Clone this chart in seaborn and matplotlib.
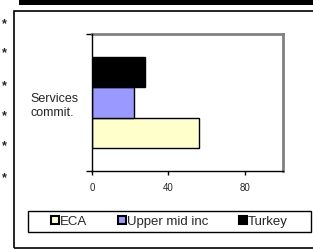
import pandas as pd
import matplotlib
matplotlib.use("Agg")
import matplotlib.pyplot as plt
import seaborn as sns
from matplotlib.patches import Rectangle

category = ["Services\ncommit."]
groups = ["ECA", "Upper mid inc", "Turkey"]
values = [56, 22, 28]
colors = ["#FFFFCC", "#9999FF", "#000000"]
x_ticks = [0, 40, 80]

df = pd.DataFrame({"cat": category * len(groups), "group": groups, "value": values})

sns.set_style("white")
plt.rcParams["font.family"] = ["Liberation Sans", "DejaVu Sans"]

fig = plt.figure(figsize=(3.13, 2.51), dpi=100)
ax = fig.add_axes([92 / 313, 1 - 172 / 251, 191 / 313, 137 / 251])

sns.barplot(data=df, x="value", y="cat", hue="group", hue_order=groups,
            palette=colors, saturation=1, orient="h", width=0.67,
            edgecolor="black", linewidth=1, ax=ax, legend=True)
ax.invert_yaxis()
ax.set_ylim(-0.5, 0.5)
ax.set_xlim(0, 100)
ax.set_xlabel("")
ax.set_ylabel("")

# x axis
ax.set_xticks(x_ticks)
ax.set_xticklabels([str(t) for t in x_ticks], fontsize=7)
ax.tick_params(axis="x", direction="out", length=3, width=1, color="black", pad=5, bottom=True)

# y axis: ticks at category borders, label in middle
ax.set_yticks([-0.5, 0.5])
ax.set_yticklabels(["", ""])
ax.tick_params(axis="y", direction="out", length=4, width=1, color="black", left=True)
ax.set_yticks([0], minor=True)
ax.set_yticklabels(category, minor=True, fontsize=9, ha="left")
ax.tick_params(axis="y", which="minor", length=0, pad=44.5)

for s in ["left", "bottom"]:
    ax.spines[s].set_color("black")
    ax.spines[s].set_linewidth(1)
for s in ["top", "right"]:
    ax.spines[s].set_color("#808080")
    ax.spines[s].set_linewidth(2)
ax.spines["left"].set_zorder(5)
ax.spines["bottom"].set_zorder(5)

# legend
handles, labels = ax.get_legend_handles_labels()
ax.get_legend().remove()
fig.patches.append(Rectangle((28 / 313, 1 - 233 / 251), 283 / 313, 21 / 251,
                             transform=fig.transFigure, fill=False,
                             edgecolor="black", linewidth=1))
leg = fig.legend(handles, labels, ncol=3, loc="center",
                 bbox_to_anchor=(169.5 / 313, 1 - 222.5 / 251),
                 fontsize=9.5, frameon=False,
                 handlelength=0.6, handleheight=0.6, handletextpad=0.1,
                 borderpad=0, borderaxespad=0, columnspacing=2.3)
for h in leg.legend_handles:
    h.set_edgecolor("black")
    h.set_linewidth(1.5)

# outer frame and top band
fig.patches.append(Rectangle((14 / 313, 1 - 249 / 251), 1.1, 237 / 251,
                             transform=fig.transFigure, fill=False,
                             edgecolor="black", linewidth=1.2))
fig.patches.append(Rectangle((19 / 313, 1 - 6 / 251), 1.0, 6 / 251,
                             transform=fig.transFigure, facecolor="black",
                             edgecolor="none"))

for yp in [22, 51, 84, 114, 144, 176]:
    fig.text(4 / 313, 1 - (yp + 5) / 251, "*", fontsize=9, fontweight="bold",
             ha="center", va="baseline")

fig.savefig("out.png", dpi=100)
